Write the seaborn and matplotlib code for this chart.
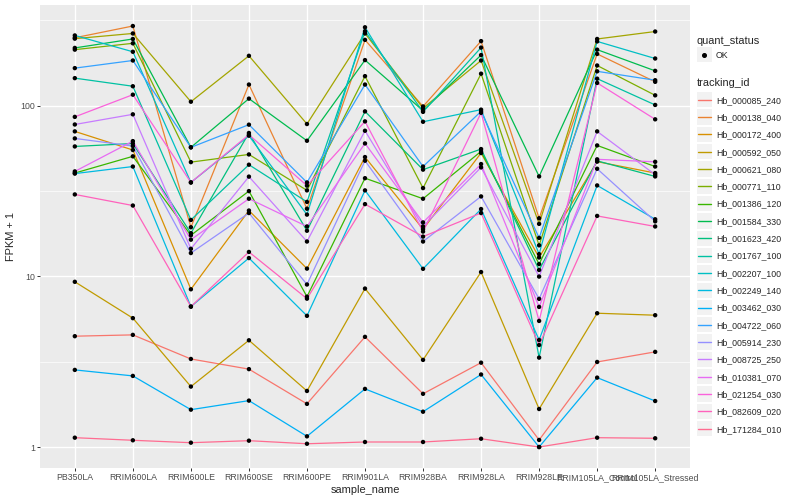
import numpy as np
import pandas as pd
import matplotlib
matplotlib.use('Agg')
import matplotlib.pyplot as plt
import seaborn as sns
from matplotlib.lines import Line2D
from matplotlib.patches import Rectangle
from matplotlib.legend_handler import HandlerBase

# ========== Data (FPKM + 1) ==========
samples = ['PB350LA', 'RRIM600LA', 'RRIM600LE', 'RRIM600SE', 'RRIM600PE', 'RRIM901LA',
           'RRIM928BA', 'RRIM928LA', 'RRIM928LE', 'RRIM105LA_Control', 'RRIM105LA_Stressed']

tracking_ids = ['Hb_000085_240', 'Hb_000138_040', 'Hb_000172_400', 'Hb_000592_050',
                'Hb_000621_080', 'Hb_000771_110', 'Hb_001386_120', 'Hb_001584_330',
                'Hb_001623_420', 'Hb_001767_100', 'Hb_002207_100', 'Hb_002249_140',
                'Hb_003462_030', 'Hb_004722_060', 'Hb_005914_230', 'Hb_008725_250',
                'Hb_010381_070', 'Hb_021254_030', 'Hb_082609_020', 'Hb_171284_010']

hb_000085_240 = [4.46, 4.54, 3.28, 2.86, 1.79, 4.42, 2.05, 3.12, 1.10, 3.15, 3.61]
hb_000138_040 = [250, 293, 19.4, 133, 24.9, 243, 99, 239, 21.9, 201, 138]
hb_000172_400 = [70.7, 55, 8.4, 24.3, 11.1, 50, 18.9, 52.8, 12.9, 47, 40.3]
hb_000592_050 = [9.29, 5.69, 2.26, 4.22, 2.13, 8.48, 3.24, 10.6, 1.67, 6.08, 5.92]
hb_000621_080 = [247, 265, 105.5, 196, 78.1, 265, 96.7, 184, 20.3, 246, 272]
hb_000771_110 = [213, 232, 46.7, 51.8, 31.9, 149, 32.9, 154, 15.2, 172, 115]
hb_001386_120 = [40.3, 50.5, 17.4, 31.6, 7.6, 37.6, 28.5, 54, 11.8, 58.5, 44]
hb_001584_330 = [218, 246, 57, 110, 62.3, 185, 93.5, 198, 38.5, 213, 160]
hb_001623_420 = [57.7, 60, 17.9, 69.2, 18.5, 92.6, 42.2, 55.7, 10.9, 47.5, 38.5]
hb_001767_100 = [145, 130, 21.4, 45.1, 27.3, 273, 92, 219, 3.34, 144, 101]
hb_002207_100 = [258, 207, 35.5, 66.7, 23.0, 288, 80.5, 94.8, 13.5, 238, 189]
hb_002249_140 = [40, 44, 6.65, 12.8, 5.87, 31.9, 11.07, 24.8, 4.24, 34.1, 21.6]
hb_003462_030 = [2.83, 2.61, 1.655, 1.87, 1.155, 2.19, 1.61, 2.66, 1.0, 2.55, 1.86]
hb_004722_060 = [166, 184, 57, 77.4, 35.5, 133, 44, 92.6, 16.8, 159, 141]
hb_005914_230 = [64.3, 58, 13.7, 23.5, 8.96, 47.6, 16.0, 29.4, 7.38, 42.7, 21.0]
hb_008725_250 = [77.6, 89, 14.5, 38.4, 16.0, 71.3, 19.6, 43.5, 9.97, 70.7, 39.4]
hb_010381_070 = [41.2, 62, 16.4, 28.5, 19.6, 60.1, 20.7, 45.5, 6.62, 48.5, 46.9]
hb_021254_030 = [86, 116, 35.5, 67.6, 34, 80.9, 18.3, 90.8, 5.48, 136, 83.2]
hb_082609_020 = [30.2, 26, 6.65, 13.9, 7.4, 26.5, 17.1, 23.5, 3.96, 22.6, 19.6]
hb_171284_010 = [1.134, 1.095, 1.06, 1.089, 1.045, 1.07, 1.07, 1.118, 1.0, 1.134, 1.125]

series = [hb_000085_240, hb_000138_040, hb_000172_400, hb_000592_050, hb_000621_080,
          hb_000771_110, hb_001386_120, hb_001584_330, hb_001623_420, hb_001767_100,
          hb_002207_100, hb_002249_140, hb_003462_030, hb_004722_060, hb_005914_230,
          hb_008725_250, hb_010381_070, hb_021254_030, hb_082609_020, hb_171284_010]

# ggplot2 hue palette for 20 levels
colors = ['#F8766D', '#EA8331', '#D89000', '#C09B00', '#A3A500', '#7CAE00', '#39B600',
          '#00BB4E', '#00BF7D', '#00C1A3', '#00BFC4', '#00BAE0', '#00B0F6', '#35A2FF',
          '#9590FF', '#C77CFF', '#E76BF3', '#FA62DB', '#FF62BC', '#FF6C91']

rows = []
for tid, vals in zip(tracking_ids, series):
    for s, v in zip(samples, vals):
        rows.append({'tracking_id': tid, 'sample_name': s, 'fpkm1': v, 'quant_status': 'OK'})
df = pd.DataFrame(rows)


# grey ggplot-style legend key with a line or dot on it
class KeyHandler(HandlerBase):
    def create_artists(self, legend, orig_handle, xdescent, ydescent, width, height,
                       fontsize, trans):
        size = 15.3 * 72 / legend.figure.dpi
        x0 = -xdescent
        cy = -ydescent + height / 2
        rect = Rectangle((x0, cy - size / 2), size, size, facecolor='#F2F2F2',
                         edgecolor='none', transform=trans)
        if orig_handle.get_marker() not in (None, 'None', ''):
            mark = Line2D([x0 + size / 2], [cy], marker='o', color='black', lw=0,
                          markersize=2.6, transform=trans)
        else:
            mark = Line2D([x0 + size * 0.1, x0 + size * 0.9], [cy, cy],
                          color=orig_handle.get_color(), lw=1.0, transform=trans)
        return [rect, mark]


# ========== Plot ==========
sns.set_theme(style='darkgrid')
plt.rcParams['font.family'] = ['Liberation Sans', 'DejaVu Sans']

fig, ax = plt.subplots(figsize=(8, 5), dpi=100)
fig.subplots_adjust(left=0.05, right=0.8625, top=0.99, bottom=0.064)
ax.set_facecolor('#EBEBEB')

sns.lineplot(data=df, x='sample_name', y='fpkm1', hue='tracking_id',
             palette=dict(zip(tracking_ids, colors)), hue_order=tracking_ids,
             estimator=None, sort=False, lw=0.9, legend=False, ax=ax)
sns.scatterplot(data=df, x='sample_name', y='fpkm1', color='black', s=10,
                edgecolor='none', legend=False, ax=ax, zorder=3)

ax.set_yscale('log')
ax.set_ylim(10 ** -0.123, 10 ** 2.59)
ax.set_xlim(-0.6, len(samples) - 0.4)
ax.set_yticks([1, 10, 100])
ax.set_yticklabels(['1', '10', '100'])
ax.set_yticks([10 ** 0.5, 10 ** 1.5, 10 ** 2.5], minor=True)
ax.yaxis.set_minor_formatter(matplotlib.ticker.NullFormatter())

ax.grid(False)
ax.grid(which='major', color='white', lw=1.0)
ax.yaxis.grid(True, which='minor', color='white', lw=0.5)
ax.set_axisbelow(True)
for sp in ax.spines.values():
    sp.set_visible(False)

ax.tick_params(which='major', length=2.2, width=0.7, color='#333333',
               labelsize=6.3, labelcolor='#4D4D4D', pad=1.5, bottom=True, left=True)
ax.tick_params(which='minor', length=0)
ax.set_xlabel('sample_name', fontsize=7.9, labelpad=2)
ax.set_ylabel('FPKM + 1', fontsize=7.9, labelpad=3)

# ========== Legends ==========
key_kw = dict(loc='upper left', frameon=False, fontsize=6.3, title_fontsize=7.9,
              alignment='left', handlelength=1.75, handletextpad=0.45,
              borderpad=0, borderaxespad=0, handler_map={Line2D: KeyHandler()})

status_handles = [Line2D([], [], marker='o', color='black', lw=0)]
leg1 = fig.legend(status_handles, ['OK'], title='quant_status', labelspacing=0.55,
                  bbox_to_anchor=(0.871, 0.928), **key_kw)

id_handles = [Line2D([], [], color=c, lw=1.0) for c in colors]
leg2 = fig.legend(id_handles, tracking_ids, title='tracking_id', labelspacing=0.95,
                  bbox_to_anchor=(0.871, 0.845), **key_kw)

fig.savefig('out.png', dpi=100, facecolor='white')
